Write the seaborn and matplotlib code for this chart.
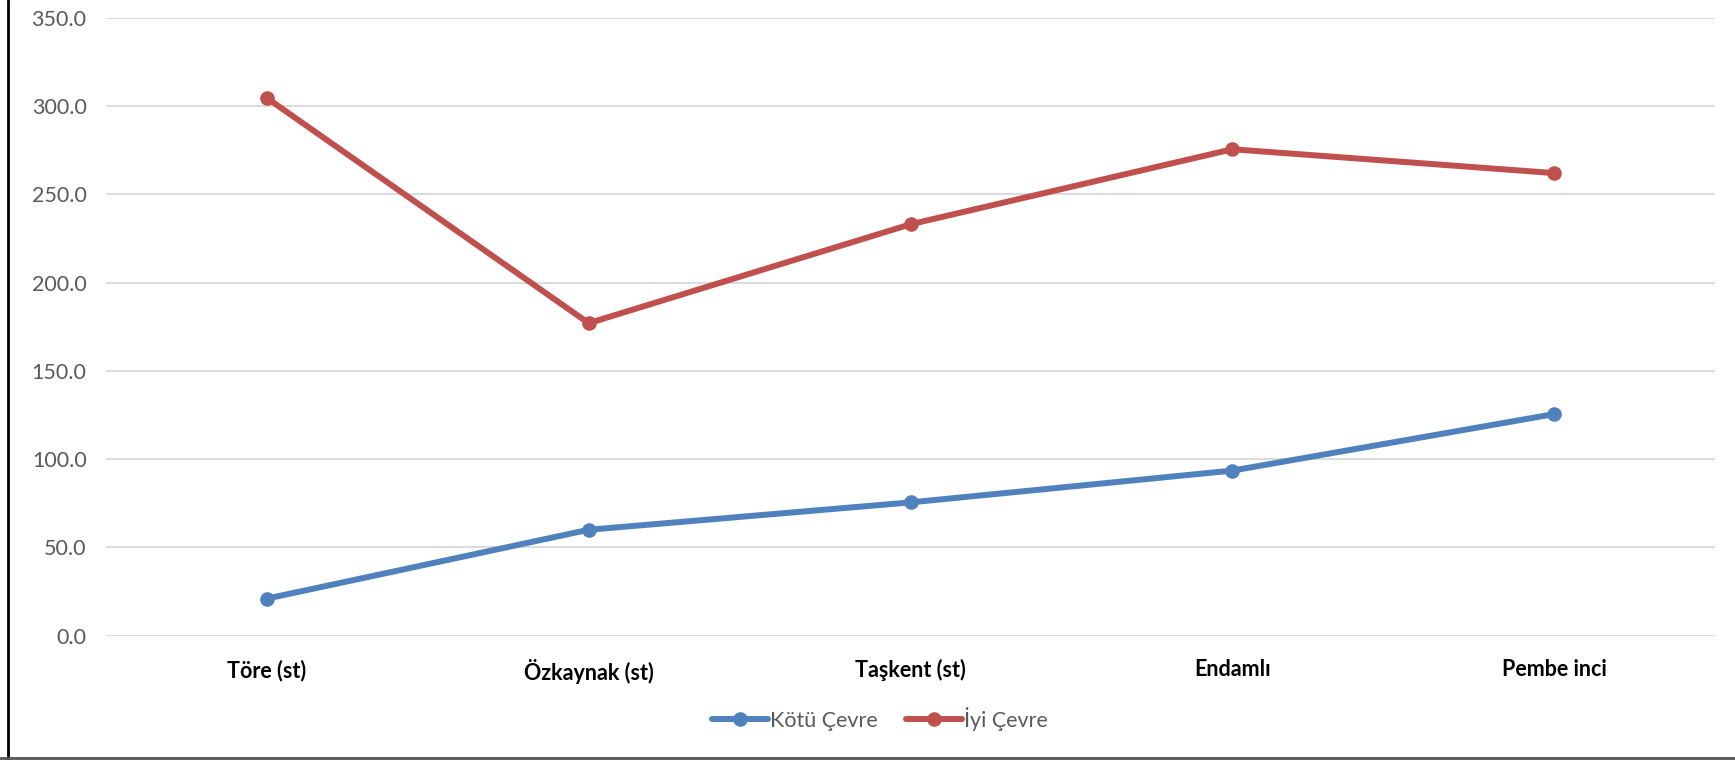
import matplotlib
matplotlib.use("Agg")
import matplotlib.pyplot as plt
import seaborn as sns
import pandas as pd
from matplotlib.lines import Line2D

categories = ["Töre (st)", "Özkaynak (st)", "Taşkent (st)", "Endamlı", "Pembe inci"]
kotu_cevre = [21.0, 60.0, 75.5, 93.5, 125.5]
iyi_cevre = [304.5, 177.0, 233.0, 275.5, 262.0]
series_names = ["Kötü Çevre", "İyi Çevre"]
y_ticks = [0, 50, 100, 150, 200, 250, 300, 350]

df = pd.DataFrame({
    "cat": categories * 2,
    "val": kotu_cevre + iyi_cevre,
    "series": [series_names[0]] * len(categories) + [series_names[1]] * len(categories),
})

sns.set_style("white")
plt.rcParams["font.family"] = ["Lato", "DejaVu Sans"]

fig = plt.figure(figsize=(17.35, 7.6), dpi=100)
ax = fig.add_axes([106 / 1735, 124.3 / 760, (1715 - 106) / 1735, (635.7 - 17.7) / 760])

palette = {series_names[0]: "#4F81BD", series_names[1]: "#C0504D"}
lw = 4.3
ms = 10.5
sns.lineplot(data=df, x="cat", y="val", hue="series", palette=palette, marker="o",
             markersize=ms, markeredgewidth=0, linewidth=lw, sort=False, ax=ax,
             legend=False, zorder=3)

ax.set_ylim(0, 350)
ax.set_xlim(-0.5, len(categories) - 0.5)
ax.set_yticks(y_ticks)
ax.set_yticklabels([f"{v:.1f}" for v in y_ticks], color="#595959", fontsize=15.5)
ax.set_xticks(range(len(categories)))
ax.set_xticklabels(categories, fontweight="bold", color="#000000", fontsize=15.5)
ax.tick_params(axis="both", length=0)
ax.tick_params(axis="y", pad=14)
ax.tick_params(axis="x", pad=17)
ax.grid(axis="y", color="#D9D9D9", linewidth=1.3)
ax.set_axisbelow(True)
for s in ax.spines.values():
    s.set_visible(False)
ax.set_xlabel("")
ax.set_ylabel("")

handles = [Line2D([0], [0], color=palette[n], linewidth=lw, marker="o", markersize=ms,
                  markeredgewidth=0) for n in series_names]
fig.legend(handles, series_names, loc="center", bbox_to_anchor=(880 / 1735, 1 - 719 / 760),
           ncol=2, frameon=False, fontsize=15.5, handlelength=2.6, handletextpad=0.1,
           columnspacing=1.3, labelcolor="#595959")

# outer frame (left and bottom edges visible in reference)
fig.add_artist(Line2D([8 / 1735, 8 / 1735], [0, 1], transform=fig.transFigure,
                      color="#000000", linewidth=2))
fig.add_artist(Line2D([0, 1], [2 / 760, 2 / 760], transform=fig.transFigure,
                      color="#555555", linewidth=2))

fig.savefig("out.png", dpi=100)
